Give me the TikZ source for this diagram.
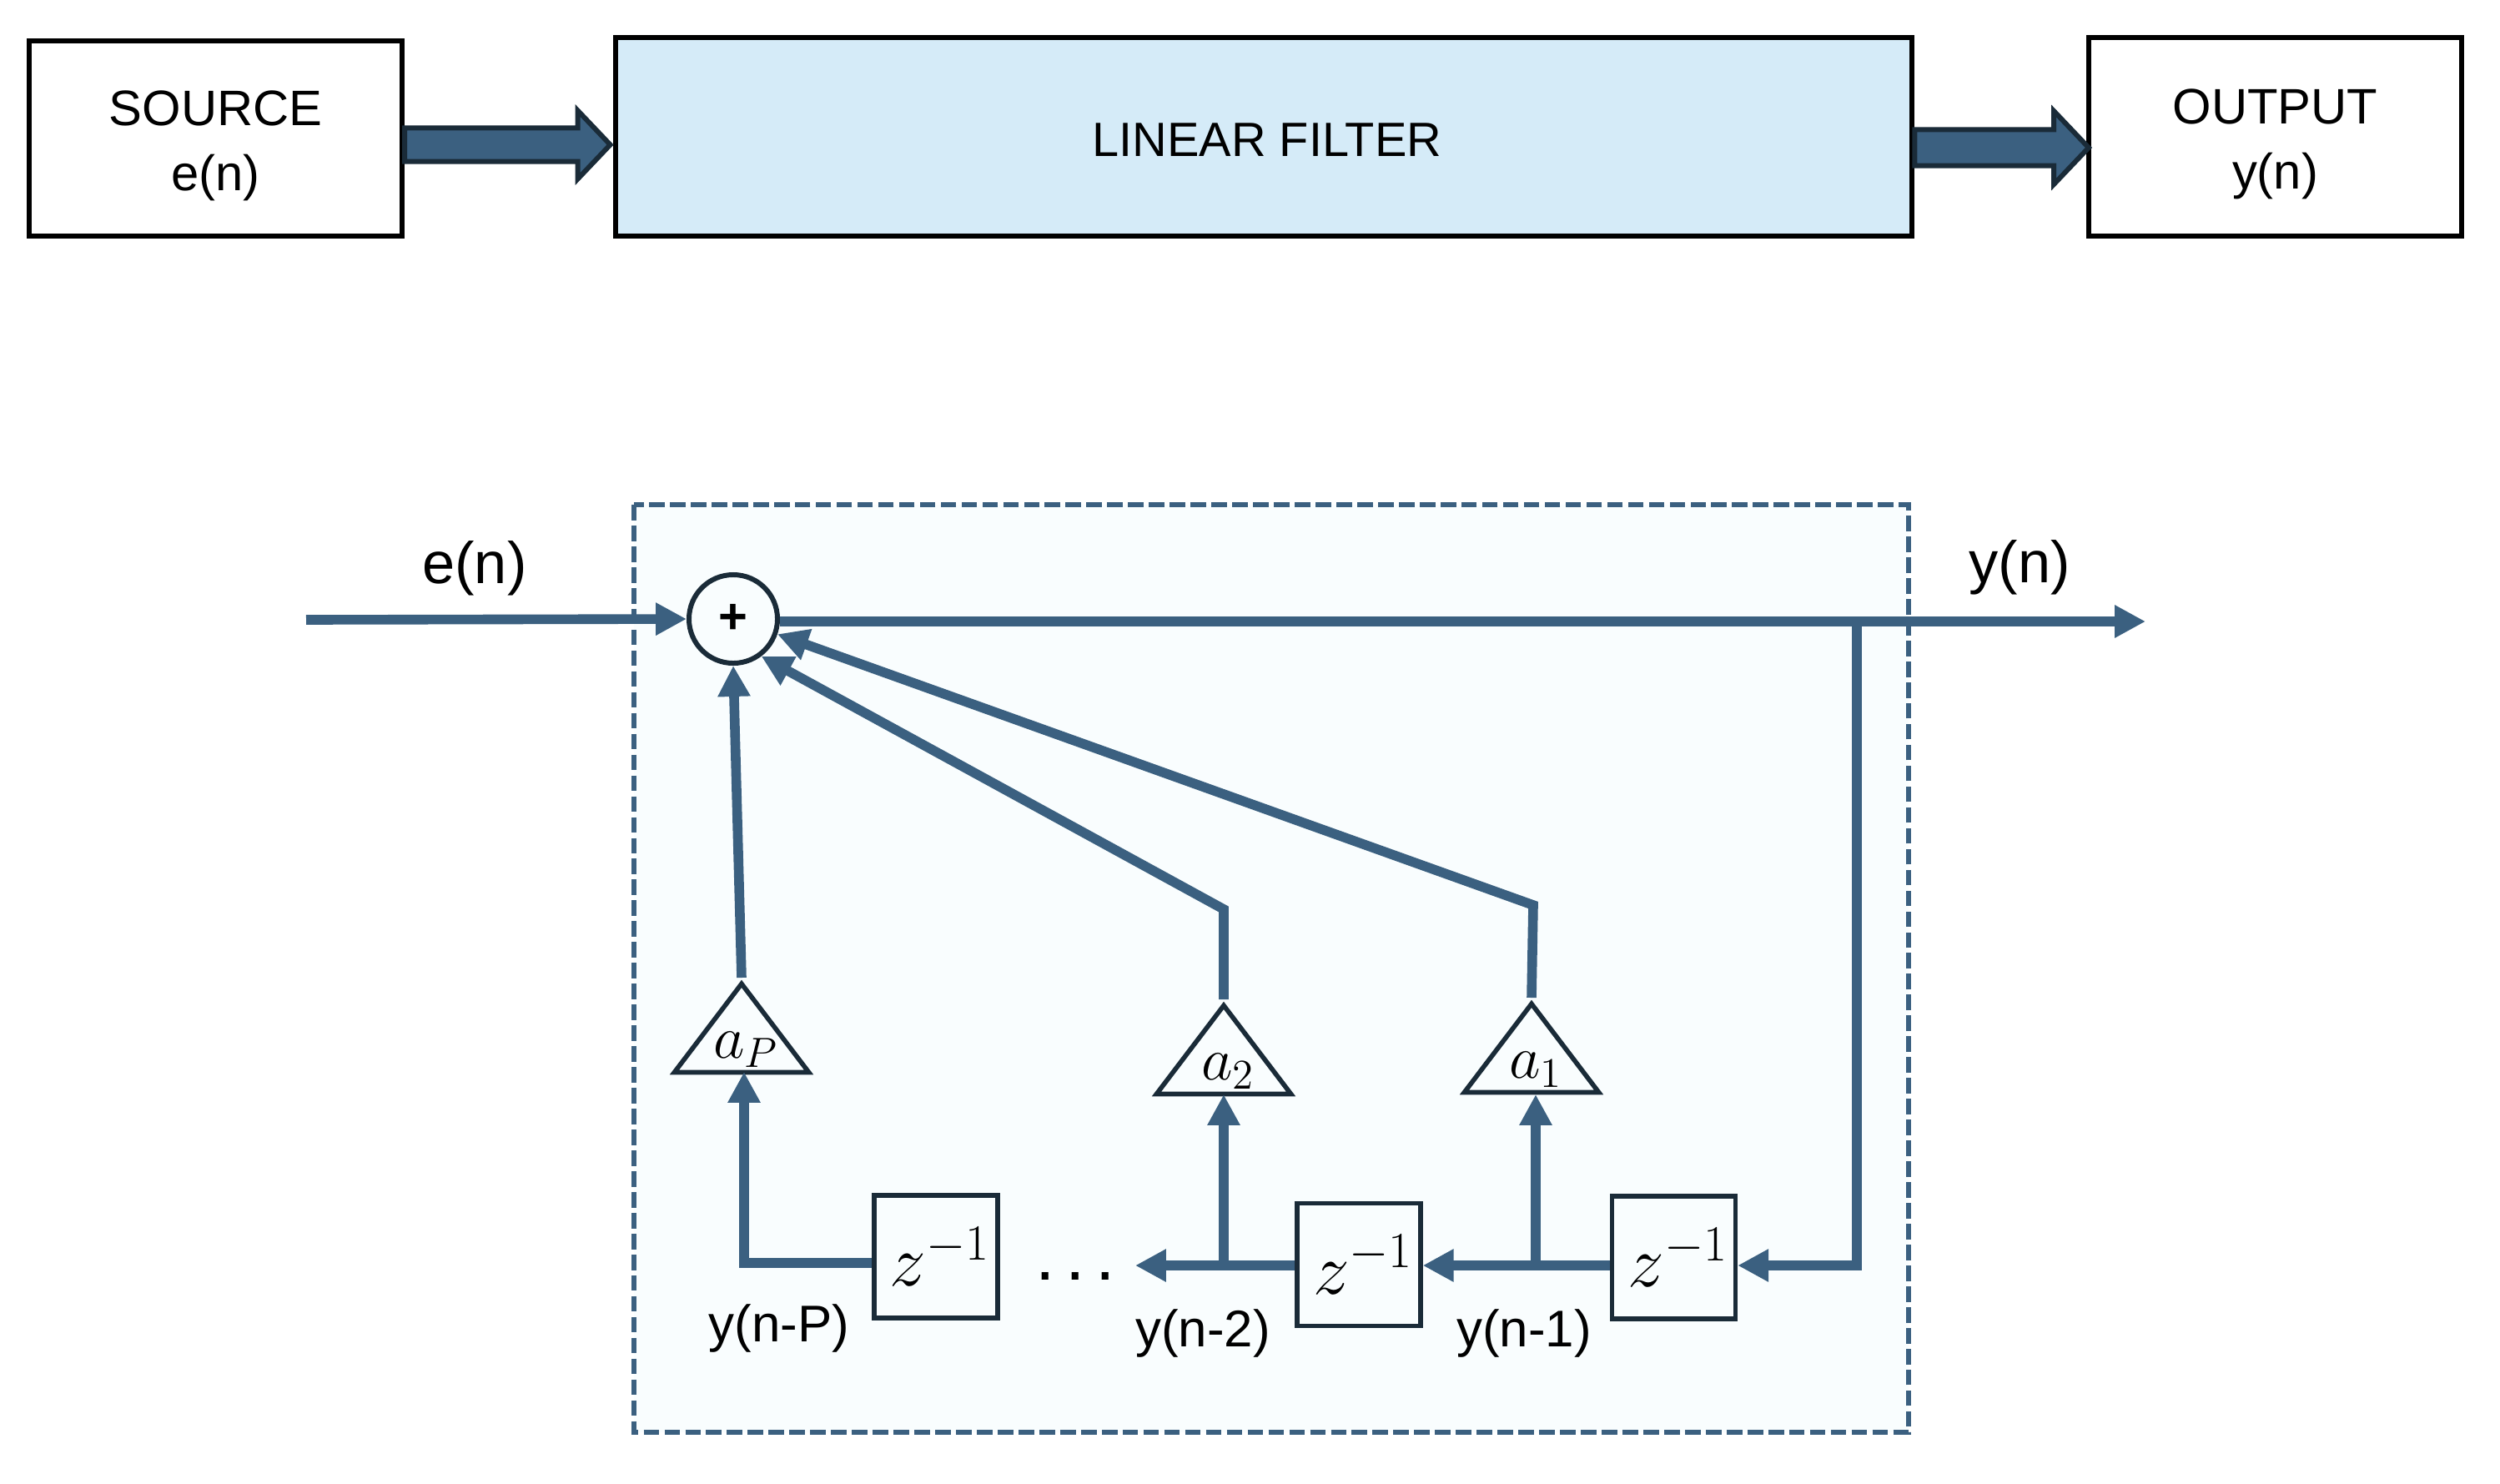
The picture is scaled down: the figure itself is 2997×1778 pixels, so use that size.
\documentclass[tikz,border=0pt]{standalone}
\usepackage{fontspec}
\setmainfont{Liberation Sans}
\usepackage{tikz}
\usetikzlibrary{arrows.meta,calc,shapes.geometric}
\definecolor{wire}{HTML}{3B6080}
\definecolor{ink}{HTML}{1A2B38}
\definecolor{filterblue}{HTML}{D5EBF8}
\definecolor{panel}{HTML}{F9FDFE}
\tikzset{>={Triangle[length=10.5pt,width=10.5pt]}}
\tikzstyle{block}=[
	 rectangle, draw=black, line width=1.7pt,
	 align=center, font=\fontsize{17}{22}\selectfont
    ]
\tikzstyle{sig}=[->, draw=wire, line width=3.3pt]
\tikzstyle{fat}=[draw=ink, fill=wire, line width=1.7pt, miter limit=10]
\tikzstyle{delay}=[
	 rectangle, draw=ink, fill=panel, line width=1.5pt, inner sep=0pt,
	 minimum width=1.48cm, minimum height=1.47cm,
	 font=\fontsize{24.5}{28}\selectfont
    ]
\tikzstyle{gain}=[
	 isosceles triangle, isosceles triangle stretches,
	 shape border rotate=90, draw=ink, fill=panel, line width=1.6pt,
	 minimum width=1.61cm, minimum height=1.06cm, inner sep=0pt,
	 font=\fontsize{20.5}{24}\selectfont
    ]
\tikzstyle{tag}=[font=\fontsize{17.6}{20}\selectfont, inner sep=0pt]
\tikzstyle{bigtag}=[font=\fontsize{20}{24}\selectfont, inner sep=0pt]
\newcommand{\pFat}[3]{\draw[fat] ($(#1)+(0,-.49*#3)$) -- ($(#2)+(-.95*#3,-.49*#3)$) -- ($(#2)+(-.95*#3,-#3)$) -- (#2) -- ($(#2)+(-.95*#3,#3)$) -- ($(#2)+(-.95*#3,.49*#3)$) -- ($(#1)+(0,.49*#3)$) -- cycle}
\newcommand{\pGain}[1]{\smash{\makebox[0pt]{\hspace*{3pt}\raisebox{-6.5pt}{$#1$}}}}
\newcommand{\pDelay}{\hspace*{3pt}$z^{-1}$}

\begin{document}
\begin{tikzpicture}[x=0.01cm,y=-0.01cm]
\useasboundingbox (0,0) rectangle (2997,1778);

\node[block,minimum width=4.47cm,minimum height=2.34cm] (source) at (258.5,166) {\rule{0pt}{16.8pt}SOURCE\\e(n)};
\node[block,fill=filterblue,minimum width=15.54cm,minimum height=2.38cm,font=\fontsize{16.4}{20}\selectfont] (filter) at (1515,164) {\hspace*{2.2pt}\rule{0pt}{13.6pt}LINEAR FILTER};
\node[block,minimum width=4.47cm,minimum height=2.38cm] (output) at (2727.5,164) {\rule{0pt}{16.8pt}OUTPUT\\y(n)};

\coordinate (fatL) at (0,173.5);
\coordinate (fatR) at (0,177);
\pFat{source.east |- fatL}{$(filter.west |- fatL)+(-3,0)$}{41};
\pFat{filter.east |- fatR}{$(output.west |- fatR)+(3,0)$}{44};

\draw[draw=wire,fill=panel,line width=1.5pt,dash pattern=on 5.3pt off 1.8pt] (760,605) rectangle (2288,1717);

\node[circle,draw=ink,fill=panel,line width=1.7pt,minimum size=1.06cm,inner sep=0pt,font=\bfseries\fontsize{17}{20}\selectfont] (sum) at (879,742) {\raisebox{-1pt}{+}};

\node[gain,anchor=apex] (aP) at (889,1172) {\pGain{a_P}};
\node[gain,anchor=apex] (a2) at (1467,1198) {\pGain{a_2}};
\node[gain,anchor=apex] (a1) at (1836,1196) {\pGain{a_1}};

\node[delay] (z3) at (1122,1506.5) {\pDelay};
\node[delay] (z2) at (1629,1516) {\pDelay};
\node[delay] (z1) at (2006.5,1507.5) {\pDelay};

\coordinate (eIn) at (367,743);
\coordinate (yOut) at (2572,745);
\coordinate (tap) at (2226,745);
\coordinate (line) at (0,1517);
\coordinate (lineP) at (0,1514);
\coordinate (dotsEnd) at (1361,1517);
\coordinate (a2up) at (1467,1090);
\coordinate (a1up) at (1838,1085);

\draw[sig] (eIn) -- (sum.west);
\draw[sig] (sum.east |- yOut) -- (yOut);
\draw[sig] (tap) |- (z1.east |- line);
\draw[sig] (z1.west |- line) -- (z2.east |- line);
\draw[sig] (z2.west |- line) -- (dotsEnd);
\draw[sig] (1841,1517) -- (1841,1312);
\draw[sig] (1467,1517) -- (1467,1312);
\draw[sig] (z3.west |- lineP) -| (892,1285);
\draw[sig] (aP.apex) -- (sum.south);
\draw[sig] (a2.apex) -- (a2up) -- (sum.-53);
\draw[sig] (a1.apex) -- (a1up) -- (sum.-19);

\node[bigtag] (eLabel) at (569,681) {e(n)};
\node[bigtag] (yLabel) at (2421,680) {y(n)};
\node[tag] (yP) at (934,1592) {y(n-P)};
\node[tag] (y2) at (1442,1598) {y(n-2)};
\node[tag] (y1) at (1827,1598) {y(n-1)};
\node[anchor=base,inner sep=0pt,font=\fontsize{24}{26}\selectfont] (dots) at (1289,1534) {.\kern3.5pt.\kern3.5pt.};

\end{tikzpicture}
\end{document}
